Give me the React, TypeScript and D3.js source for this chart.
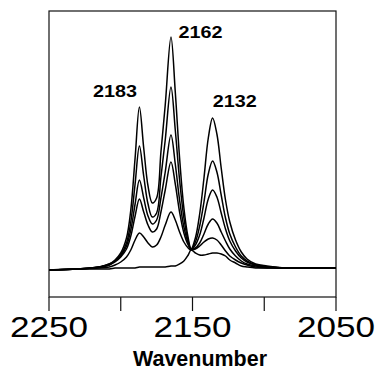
import React from "react";
import * as d3 from "d3";

const wavenumbers = [2250, 2230, 2215, 2208, 2204, 2200, 2196, 2193, 2190, 2187, 2184, 2181, 2178, 2175, 2172, 2169, 2165, 2162, 2159, 2156, 2153, 2151, 2148, 2145, 2142, 2139, 2136, 2133, 2130, 2127, 2124, 2120, 2116, 2112, 2106, 2098, 2085, 2070, 2050];

const spectrum1 = [0, .002, .006, .012, .020, .034, .064, .120, .224, .326, .244, .168, .134, .144, .236, .330, .466, .356, .224, .124, .064, .042, .064, .112, .184, .264, .304, .272, .204, .140, .096, .060, .036, .022, .012, .008, .004, .004, .004];
const spectrum2 = [0, .002, .006, .012, .018, .030, .054, .096, .172, .248, .188, .132, .106, .114, .186, .260, .366, .280, .180, .104, .058, .042, .056, .088, .136, .192, .218, .196, .150, .104, .072, .046, .028, .018, .010, .006, .004, .004, .004];
const spectrum3 = [0, .002, .006, .010, .018, .028, .048, .080, .132, .180, .144, .108, .092, .100, .144, .196, .270, .212, .140, .086, .054, .042, .050, .070, .104, .142, .160, .146, .114, .082, .058, .038, .024, .016, .010, .006, .004, .004, .004];
const spectrum4 = [0, .002, .006, .010, .016, .026, .042, .068, .108, .142, .116, .090, .076, .082, .116, .160, .216, .172, .116, .074, .050, .042, .044, .054, .072, .092, .102, .094, .076, .058, .042, .028, .018, .012, .008, .006, .004, .004, .004];
const spectrum5 = [0, .002, .004, .006, .010, .016, .026, .040, .060, .074, .066, .054, .046, .050, .066, .090, .116, .100, .076, .056, .044, .040, .042, .048, .056, .062, .064, .060, .050, .038, .028, .020, .014, .010, .006, .004, .004, .004, .004];
const spectrum6 = [0, .002, .002, .002, .004, .004, .004, .004, .004, .006, .006, .006, .006, .006, .006, .006, .008, .008, .012, .018, .030, .040, .034, .030, .030, .032, .034, .034, .032, .028, .020, .014, .008, .006, .004, .004, .004, .004, .004];

const seriesList = [spectrum1, spectrum2, spectrum3, spectrum4, spectrum5, spectrum6];

const xTicks = [2250, 2200, 2150, 2100, 2050];
const xTickLabels = ["2250", "", "2150", "", "2050"];
const peakLabels = ["2183", "2162", "2132"];
const peakLabelPos = [2204, 2144.4, 2120.6];
const peakLabelAbs = [0.346, 0.465, 0.327];
const xTitle = "Wavenumber";

export default function App() {
  const W = 375, H = 371;
  const left = 49, right = 336, top = 11, bottom = 297;
  const x = d3.scaleLinear().domain([2250, 2050]).range([left, right]);
  const y = d3.scaleLinear().domain([-0.054, 0.518]).range([bottom, top]);
  const line = d3
    .line<number>()
    .x((_, i) => x(wavenumbers[i]))
    .y((v) => y(v))
    .curve(d3.curveCatmullRom.alpha(0.5));

  return (
    <svg
      width={W}
      height={H}
      style={{ position: "absolute", left: 0, top: 0, background: "#fff" }}
      fontFamily="'Liberation Sans', Arial, sans-serif"
    >
      <rect x={0} y={0} width={W} height={H} fill="#fff" />
      <defs>
        <clipPath id="clip">
          <rect x={left} y={top} width={right - left} height={bottom - top} />
        </clipPath>
      </defs>
      <rect x={left} y={top} width={right - left} height={bottom - top} fill="none" stroke="#111" strokeWidth={1.2} />
      {xTicks.map((t, i) => (
        <g key={t}>
          <line x1={x(t)} x2={x(t)} y1={bottom} y2={bottom + 14} stroke="#111" strokeWidth={1.2} />
          {xTickLabels[i] && (
            <text
              x={x(t)}
              y={337}
              textAnchor="middle"
              fontSize={30}
              textLength={78}
              lengthAdjust="spacingAndGlyphs"
              fill="#000"
            >
              {xTickLabels[i]}
            </text>
          )}
        </g>
      ))}
      <g clipPath="url(#clip)">
        {seriesList.map((s, i) => (
          <path key={i} d={line(s) || ""} fill="none" stroke="#000" strokeWidth={1.5} strokeLinejoin="round" />
        ))}
      </g>
      {peakLabels.map((p, i) => (
        <text
          key={p}
          x={x(peakLabelPos[i])}
          y={y(peakLabelAbs[i])}
          fontSize={16.5}
          fontWeight="bold"
          textAnchor="middle"
          textLength={44}
          lengthAdjust="spacingAndGlyphs"
          fill="#000"
        >
          {p}
        </text>
      ))}
      <text x={200} y={366} textAnchor="middle" fontSize={21.5} fontWeight="bold" textLength={134} lengthAdjust="spacingAndGlyphs" fill="#000">
        {xTitle}
      </text>
    </svg>
  );
}
